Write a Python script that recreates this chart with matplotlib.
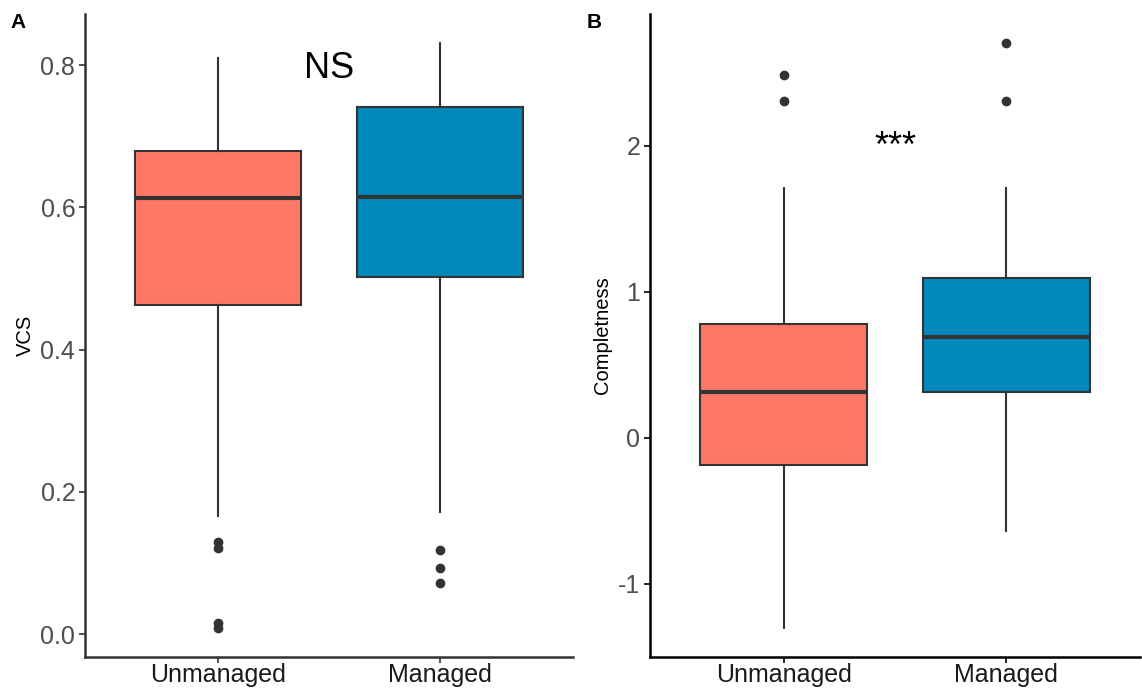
import matplotlib
matplotlib.use("Agg")
import matplotlib.pyplot as plt

plt.rcParams['font.family'] = ['Liberation Sans', 'DejaVu Sans']

groups = ["Unmanaged", "Managed"]
box_colors = ["#FF7866", "#0089BA"]

# Panel A: VCS
vcs_whislo = [0.166, 0.171]
vcs_q1 = [0.463, 0.502]
vcs_med = [0.613, 0.614]
vcs_q3 = [0.679, 0.741]
vcs_whishi = [0.810, 0.831]
vcs_fliers = [[0.129, 0.121, 0.016, 0.008], [0.118, 0.093, 0.072]]

# Panel B: Completeness
cmp_whislo = [-1.30, -0.637]
cmp_q1 = [-0.185, 0.315]
cmp_med = [0.315, 0.692]
cmp_q3 = [0.781, 1.096]
cmp_whishi = [1.712, 1.71]
cmp_fliers = [[2.486, 2.308], [2.705, 2.308]]

fig = plt.figure(figsize=(11.42, 6.90), dpi=100)
W, H = 1142, 690
axA = fig.add_axes([85 / W, 1 - 657 / H, (573 - 85) / W, (657 - 14) / H])
axB = fig.add_axes([650 / W, 1 - 657 / H, (1140 - 650) / W, (657 - 14) / H])


def draw(ax, whislo, q1, med, q3, whishi, fliers, ylim, yticks, yticklabels, ylabel, axcolor):
    stats = []
    for i in range(len(groups)):
        stats.append(dict(whislo=whislo[i], q1=q1[i], med=med[i], q3=q3[i],
                          whishi=whishi[i], fliers=fliers[i], label=groups[i]))
    bp = ax.bxp(stats, positions=[1, 2], widths=0.75, patch_artist=True,
                showcaps=False,
                boxprops=dict(edgecolor="#333333", linewidth=1.5),
                medianprops=dict(color="#333333", linewidth=3),
                whiskerprops=dict(color="#333333", linewidth=1.5),
                flierprops=dict(marker="o", markerfacecolor="#333333",
                                markeredgecolor="#333333", markersize=6))
    for patch, c in zip(bp["boxes"], box_colors):
        patch.set_facecolor(c)
    ax.set_xlim(0.4, 2.6)
    ax.set_ylim(*ylim)
    ax.set_yticks(yticks)
    ax.set_yticklabels(yticklabels)
    ax.set_xticks([1, 2])
    ax.set_xticklabels(groups)
    for s in ["top", "right"]:
        ax.spines[s].set_visible(False)
    for s in ["left", "bottom"]:
        ax.spines[s].set_color(axcolor)
        ax.spines[s].set_linewidth(1.8)
    ax.tick_params(axis="both", colors=axcolor, labelcolor="#4D4D4D",
                   labelsize=18, length=4, width=1.2, pad=3)
    ax.tick_params(axis="x", labelcolor="#1A1A1A", labelsize=18, pad=0.5)
    ax.set_ylabel(ylabel, fontsize=14.5, color="black", labelpad=4)


draw(axA, vcs_whislo, vcs_q1, vcs_med, vcs_q3, vcs_whishi, vcs_fliers,
     (-0.0323, 0.872), [0.0, 0.2, 0.4, 0.6, 0.8],
     ["0.0", "0.2", "0.4", "0.6", "0.8"], "VCS", "#333333")
draw(axB, cmp_whislo, cmp_q1, cmp_med, cmp_q3, cmp_whishi, cmp_fliers,
     (-1.5, 2.904), [-1, 0, 1, 2], ["-1", "0", "1", "2"], "Completness", "black")

axA.text(1.5, 0.795, "NS", fontsize=26, ha="center", va="center", color="black")
axB.text(1.5, 1.99, "***", fontsize=26, ha="center", va="center", color="black")

fig.text(10 / W, 1 - 22 / H, "A", fontsize=15, fontweight="bold", va="center", ha="left")
fig.text(587 / W, 1 - 22 / H, "B", fontsize=15, fontweight="bold", va="center", ha="left")

fig.savefig("out.png", dpi=100, facecolor="white")
